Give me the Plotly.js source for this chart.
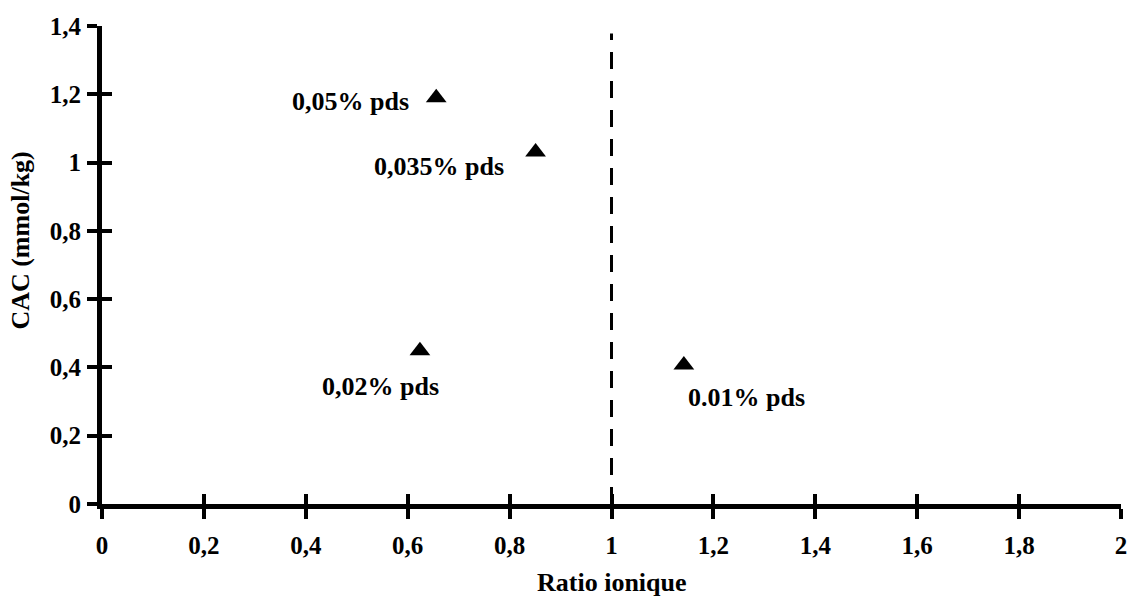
<!DOCTYPE html>
<html>
<head>
<meta charset="utf-8">
<script src="https://cdn.plot.ly/plotly-3.0.1.min.js"></script>
<style>html,body{margin:0;padding:0;background:#fff;}#chart{width:1128px;height:601px;}</style>
</head>
<body>
<div id="chart"></div>
<script>
// Data
var ratioIonique = [0.656, 0.851, 0.624, 1.142];
var cac = [1.190, 1.031, 0.449, 0.407];
var pointLabels = ["0,05% pds", "0,035% pds", "0,02% pds", "0.01% pds"];
var thresholdX = [1, 1];
var thresholdY = [0, 1.378];
var xTickVals = [0, 0.2, 0.4, 0.6, 0.8, 1, 1.2, 1.4, 1.6, 1.8, 2];
var xTickText = ["0", "0,2", "0,4", "0,6", "0,8", "1", "1,2", "1,4", "1,6", "1,8", "2"];
var yTickVals = [0, 0.2, 0.4, 0.6, 0.8, 1, 1.2, 1.4];
var yTickText = ["0", "0,2", "0,4", "0,6", "0,8", "1", "1,2", "1,4"];
var xTitle = "Ratio ionique";
var yTitle = "CAC (mmol/kg)";

// label offsets in pixels (style)
var labelShiftX = [-86, -97, -39, 63];
var labelShiftY = [-4, -15, -36, -32];

var FONT = "Liberation Serif, Times New Roman, serif";

var traces = [
  {
    x: thresholdX, y: thresholdY, type: "scatter", mode: "lines",
    xaxis: "x2", yaxis: "y2",
    line: {color: "#000", width: 3, dash: "17px,12px"},
    hoverinfo: "skip", showlegend: false
  },
  {
    x: ratioIonique, y: cac, type: "scatter", mode: "markers",
    marker: {symbol: "triangle-up", size: 18, color: "#000"},
    showlegend: false
  }
];

var annotations = pointLabels.map(function (t, i) {
  return {
    x: ratioIonique[i], y: cac[i], xref: "x", yref: "y",
    text: t, showarrow: false,
    xshift: labelShiftX[i], yshift: labelShiftY[i],
    font: {family: FONT, size: 26, color: "#000", weight: "bold"}
  };
});
annotations.push({
  text: yTitle, xref: "paper", yref: "paper",
  x: -0.08, y: 0.552, xanchor: "center", yanchor: "middle",
  textangle: -90, showarrow: false,
  font: {family: FONT, size: 26, color: "#000", weight: "bold"}
});
annotations.push({
  text: xTitle, xref: "paper", yref: "paper",
  x: 0.5, y: -0.164, xanchor: "center", yanchor: "middle",
  showarrow: false,
  font: {family: FONT, size: 26, color: "#000", weight: "bold"}
});

var axisCommon = {
  showgrid: false, zeroline: false,
  showline: true, linecolor: "#000", linewidth: 5,
  ticks: "outside", ticklen: 10, tickwidth: 4, tickcolor: "#000",
  tickfont: {family: FONT, size: 25, color: "#000", weight: "bold"},
  fixedrange: true
};

var layout = {
  width: 1128, height: 601,
  margin: {l: 102, r: 7, t: 26, b: 97},
  paper_bgcolor: "#fff", plot_bgcolor: "#fff",
  font: {family: FONT, color: "#000", weight: "bold"},
  xaxis: Object.assign({}, axisCommon, {
    range: [0, 2], tickmode: "array", tickvals: xTickVals, ticktext: xTickText,
    ticklabelstandoff: 5
  }),
  yaxis: Object.assign({}, axisCommon, {
    range: [0, 1.4], tickmode: "array", tickvals: yTickVals, ticktext: yTickText,
    ticklabelstandoff: 1
  }),
  xaxis2: {
    overlaying: "x", anchor: "y2", side: "bottom", range: [0, 2],
    tickmode: "array", tickvals: xTickVals, showticklabels: false,
    ticks: "inside", ticklen: 10, tickwidth: 4, tickcolor: "#000",
    showgrid: false, zeroline: false, showline: false, fixedrange: true
  },
  yaxis2: {
    overlaying: "y", anchor: "x2", side: "left", range: [0, 1.4],
    tickmode: "array", tickvals: yTickVals, showticklabels: false,
    ticks: "inside", ticklen: 10, tickwidth: 4, tickcolor: "#000",
    showgrid: false, zeroline: false, showline: false, fixedrange: true
  },
  annotations: annotations
};

Plotly.newPlot("chart", traces, layout, {displayModeBar: false, staticPlot: true});
</script>
</body>
</html>
